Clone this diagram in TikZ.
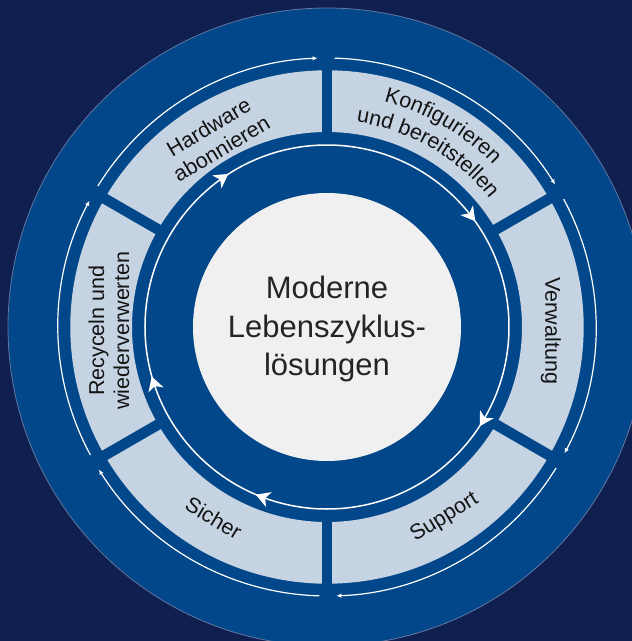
\documentclass[tikz,border=0pt]{standalone}
\usepackage{fontspec}
\setmainfont{Liberation Sans}
\usetikzlibrary{arrows.meta,decorations.text}
\definecolor{bgnavy}{RGB}{14,31,80}
\definecolor{ringblue}{RGB}{1,71,137}
\definecolor{segfill}{RGB}{197,211,227}
\definecolor{corefill}{RGB}{240,240,240}
\definecolor{labtext}{RGB}{20,20,20}
\definecolor{coretext}{RGB}{36,36,36}
\definecolor{rimline}{RGB}{100,118,160}
\newcommand\lblfont{\fontsize{21.5}{25}\selectfont}
\begin{document}
\begin{tikzpicture}[x=1pt,y=1pt,
  lbl/.style={font=\lblfont, text=labtext, align=center, inner sep=0pt},
  gapbar/.style={draw=ringblue, line width=10.6pt},
  flowarc/.style={draw=white, line width=1.2pt, -{Latex[length=5pt,width=4.5pt]}},
  chevron/.style={fill=white, draw=none}
]
\useasboundingbox (-327,-314) rectangle (305,327);
\fill[bgnavy] (-327,-314) rectangle (305,327);
\fill[ringblue] (0,0) circle[radius=319pt];
\draw[rimline, line width=0.8pt] (0,0) circle[radius=319pt];
% segment ring
\fill[segfill, even odd rule] (0,0) circle[radius=256.7pt] (0,0) circle[radius=195pt];
\foreach \g in {90,30,-30,-90,-150,150}
  \draw[gapbar] (\g:188) -- (\g:264);
% outer arrows
\foreach \g [evaluate=\g as \s using \g-1.6, evaluate=\g as \e using \g-58] in {90,30,-30,-90,-150,150}
  \draw[flowarc] (\s:269) arc[start angle=\s, end angle=\e, radius=269pt];
% inner circle arrow line
\draw[white, line width=1.5pt] (0,0) circle[radius=182pt];
\foreach \a in {125,37.7,-30.8,-110.8,-162}
  \fill[chevron, shift={(\a:182)}, rotate=\a-90] (7,0) -- (-7,8) -- (-3,0) -- (-7,-8) -- cycle;
% core
\node[circle, fill=corefill, minimum size=268pt, inner sep=0pt] (core) at (0,0) {};
\node[font=\fontsize{31}{38.5}\selectfont, text=coretext, align=center, inner sep=0pt] (coretxt) at (0,-2) {Moderne\\Lebenszyklus-\\lösungen};
% labels
\node[lbl, rotate=30.6] (hw) at (120.6:220) {Hardware\\abonnieren};
\node[lbl, rotate=-90] (vw) at (-1:224) {Verwaltung};
\node[lbl, rotate=31.7] (sp) at (-58.3:224) {Support};
\node[lbl, rotate=-30.7] (si) at (-120.7:222) {Sicher};
\node[lbl, rotate=90] (rc) at (181:218) {Recyceln und\\wiederverwerten};
\path[decorate, decoration={text along path, text align=center, text={|\lblfont\color{labtext}|Konfigurieren}}]
  (100:232) arc[start angle=100, end angle=20, radius=232pt];
\path[decorate, decoration={text along path, text align=center, text={|\lblfont\color{labtext}|und bereitstellen}}]
  (100:207) arc[start angle=100, end angle=20, radius=207pt];
\end{tikzpicture}
\end{document}
